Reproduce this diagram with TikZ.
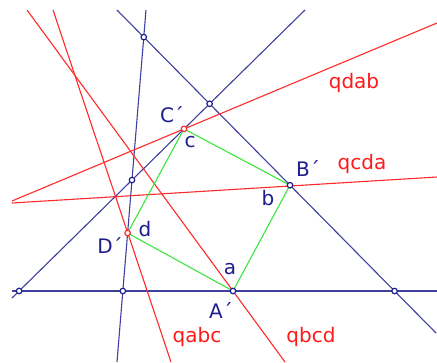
\documentclass[tikz,border=0pt]{standalone}
\usepackage{fontspec}
\setmainfont{DejaVu Sans}
\definecolor{navy}{HTML}{1E1E8C}
\definecolor{bline}{HTML}{4040A0}
\definecolor{rline}{HTML}{FF2A2A}
\definecolor{gline}{HTML}{3CE63C}
\definecolor{rtext}{HTML}{FF1A1A}
\tikzset{
  blueln/.style={draw=bline, line width=1.1pt},
  redln/.style={draw=rline, line width=1.1pt},
  quadln/.style={draw=gline, line width=1.1pt},
  vtx/.style={circle, draw=navy, fill=white, line width=1.2pt, inner sep=0pt, minimum size=5.5pt},
  rvtx/.style={vtx, draw=rline},
  lab/.style={font=\fontsize{20}{22}\selectfont, text=navy, inner sep=0pt},
  qlab/.style={lab, text=rtext},
}
\begin{document}
\begin{tikzpicture}[x=1pt, y=-1pt]
    \useasboundingbox[fill=white] (0,0) rectangle (437,362);
    % ends of the four blue lines
    \coordinate (l1a) at (12,291);  \coordinate (l1b) at (437,291);
    \coordinate (l2a) at (146,10);  \coordinate (l2b) at (117,362);
    \coordinate (l3a) at (117,10);  \coordinate (l3b) at (436,333);
    \coordinate (l4a) at (12,298);  \coordinate (l4b) at (305,10);
    % quadrilateral A'B'C'D'
    \coordinate (A) at (233,291);
    \coordinate (B) at (290,185.2);
    \coordinate (C) at (184,128.9);
    \coordinate (D) at (127.6,233);
    % ends of the red lines
    \coordinate (qdab1) at (12,201);  \coordinate (qdab2) at (437,23);
    \coordinate (qcda1) at (12,203);  \coordinate (qcda2) at (437,177);
    \coordinate (qbcd1) at (27,10);   \coordinate (qbcd2) at (285,362);
    \coordinate (qabc1) at (53,10);   \coordinate (qabc2) at (171,362);
    % lines
    \draw[blueln] (l1a) -- (l1b);
    \draw[blueln] (l2a) -- (l2b);
    \draw[blueln] (l3a) -- (l3b);
    \draw[blueln] (l4a) -- (l4b);
    \draw[redln] (qdab1) -- (qdab2);
    \draw[redln] (qcda1) -- (qcda2);
    \draw[redln] (qbcd1) -- (qbcd2);
    \draw[redln] (qabc1) -- (qabc2);
    \draw[quadln] (A) -- (B) -- (C) -- (D) -- cycle;
    % points
    \node[vtx] (p12) at (intersection of l1a--l1b and l2a--l2b) {};
    \node[vtx] (p13) at (intersection of l1a--l1b and l3a--l3b) {};
    \node[vtx] (p14) at (intersection of l1a--l1b and l4a--l4b) {};
    \node[vtx] (p23) at (intersection of l2a--l2b and l3a--l3b) {};
    \node[vtx] (p24) at (intersection of l2a--l2b and l4a--l4b) {};
    \node[vtx] (p34) at (intersection of l3a--l3b and l4a--l4b) {};
    \node[vtx] (pA) at (A) {};
    \node[vtx] (pB) at (B) {};
    \node[rvtx] (pC) at (C) {};
    \node[rvtx] (pD) at (D) {};
    % labels
    \node[lab] (labA) at (221,310) {A´};
    \node[lab] (labB) at (308,168) {B´};
    \node[lab] (labC) at (172,115) {C´};
    \node[lab] (labD) at (110,245) {D´};
    \node[lab] (laba) at (230,269) {a};
    \node[lab] (labb) at (268,198) {b};
    \node[lab] (labc) at (190,142) {c};
    \node[lab] (labd) at (145,229) {d};
    \node[qlab] (labqdab) at (354,83) {qdab};
    \node[qlab] (labqcda) at (362,164) {qcda};
    \node[qlab] (labqabc) at (197,337) {qabc};
    \node[qlab] (labqbcd) at (311,337) {qbcd};
\end{tikzpicture}
\end{document}
